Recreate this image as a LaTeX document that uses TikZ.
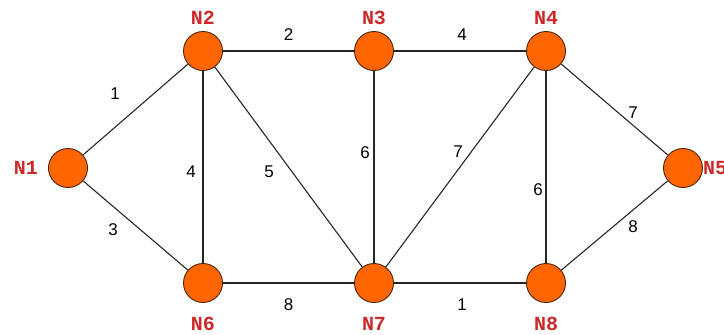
\documentclass[tikz,border=0pt]{standalone}
\usepackage{fontspec}
\setmainfont{Liberation Sans}
\newfontfamily\nodefont{Liberation Mono}
\usepackage{xcolor}
\usepackage{tikz}
\usetikzlibrary{positioning}
\definecolor{vertexfill}{HTML}{FF6600}
\definecolor{vertexline}{HTML}{4A2408}
\definecolor{namered}{HTML}{CC2A2A}
\tikzset{
  vertex/.style={draw=vertexline, line width=0.9pt, circle, fill=vertexfill, minimum size=39pt, inner sep=0pt},
  vname/.style={text=namered, font=\nodefont\bfseries\fontsize{20}{20}\selectfont, inner sep=0pt},
  link/.style={draw=black!85, line width=1.1pt},
  wt/.style={font=\fontsize{17}{17}\selectfont, inner sep=0pt}
}

\begin{document}
\begin{tikzpicture}[x=1pt, y=-1pt]
  \useasboundingbox (0,0) rectangle (724,335);

  \node[vertex, label={[vname, label distance=10pt]left:N1}] (n1) at (68,168) {};
  \node[vertex, label={[vname, label distance=6pt]above:N2}] (n2) at (203,51) {};
  \node[vertex, label={[vname, label distance=6pt]above:N3}] (n3) at (374,51) {};
  \node[vertex, label={[vname, label distance=6pt]above:N4}] (n4) at (546,51) {};
  \node[vertex, label={[vname, label distance=0pt]right:N5}] (n5) at (683,168) {};
  \node[vertex, label={[vname, label distance=14pt]below:N6}] (n6) at (203,283) {};
  \node[vertex, label={[vname, label distance=14pt]below:N7}] (n7) at (374,283) {};
  \node[vertex, label={[vname, label distance=14pt]below:N8}] (n8) at (546,283) {};

  \draw[link] (n1) -- node[wt, shift={(-20.5,-15.5)}] {1} (n2);
  \draw[link] (n2) -- node[wt, shift={(0,-16)}] {2} (n3);
  \draw[link] (n3) -- node[wt, shift={(2,-16)}] {4} (n4);
  \draw[link] (n4) -- node[wt, shift={(18.5,3.5)}] {7} (n5);
  \draw[link] (n5) -- node[wt, shift={(18.5,1.5)}] {8} (n8);
  \draw[link] (n1) -- node[wt, shift={(-22.5,4.5)}] {3} (n6);
  \draw[link] (n2) -- node[wt, shift={(-12,5)}] {4} (n6);
  \draw[link] (n2) -- node[wt, shift={(-19.5,5)}] {5} (n7);
  \draw[link] (n3) -- node[wt, shift={(-9,-14)}] {6} (n7);
  \draw[link] (n4) -- node[wt, shift={(-2,-15)}] {7} (n7);
  \draw[link] (n4) -- node[wt, shift={(-8,23)}] {6} (n8);
  \draw[link] (n6) -- node[wt, shift={(0,22)}] {8} (n7);
  \draw[link] (n7) -- node[wt, shift={(2,22)}] {1} (n8);
\end{tikzpicture}
\end{document}
